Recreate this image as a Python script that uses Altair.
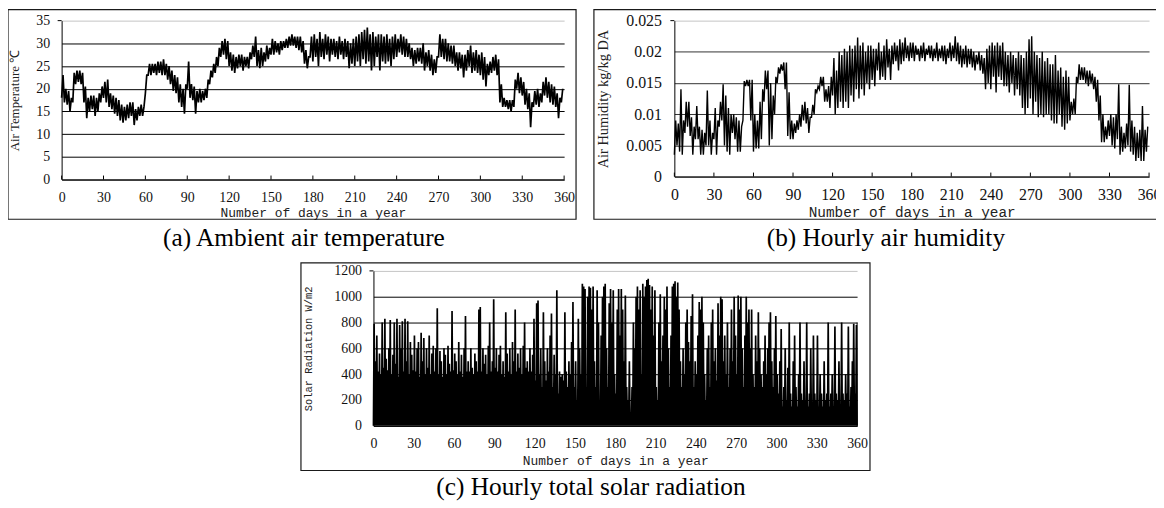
import altair as alt
import pandas as pd

# ---------------- tick lists ----------------
DAY_TICKS = list(range(0, 361, 30))
TEMP_TICKS = [0, 5, 10, 15, 20, 25, 30, 35]
HUM_TICKS = [0, 0.005, 0.01, 0.015, 0.02, 0.025]
SOLAR_TICKS = [0, 200, 400, 600, 800, 1000, 1200]

# ---------------- (a) air temperature, low / high per 2-day step (degC) ----------------
TEMP_LO = [18, 17, 16.5, 15, 17, 21, 21.5, 21, 17, 13.5,
           15, 15.5, 14, 15, 17, 18, 17, 16, 15.5, 14.5,
           14, 13, 12.5, 13, 13.5, 14, 12, 13, 14, 14,
           19, 23, 23, 23.5, 23, 23.5, 23, 23, 22, 21,
           19.5, 19, 17, 16, 14.5, 20, 18, 17.5, 14.5, 17,
           17, 17.5, 18, 21, 22.5, 23.5, 25, 27, 27.5, 26.5,
           25, 24, 23.5, 24.5, 25, 24, 25, 24.5, 26.5, 27,
           25, 24.5, 25, 26, 26.5, 27.5, 27.5, 28, 27.5, 28.5,
           29, 29, 29.5, 29.5, 29, 28.5, 28, 25.5, 24.5, 27,
           26, 27, 25, 27, 26.5, 27.5, 26, 27.5, 27, 26.5,
           27.5, 26.5, 27, 24.5, 25.5, 25, 26, 25, 26.5, 25.5,
           26, 24, 25, 27, 24, 26, 25.5, 26, 25, 26.5,
           27, 28, 27.5, 27, 27, 26.5, 25, 25.5, 26, 25.5,
           24, 25, 24, 23, 23.5, 27, 27, 26.5, 26, 26,
           25.5, 25, 24, 24.5, 22.5, 24, 25, 23.5, 24, 23.5,
           23, 22, 20.5, 23, 23.5, 24, 23, 17, 16, 16,
           15.5, 15, 16, 20, 19, 18.5, 16.5, 15.5, 11.5, 16,
           16.5, 16, 17, 18.5, 18, 17, 16.5, 16, 13.5, 17]
TEMP_HI = [23, 20, 19.5, 18, 23.5, 24, 24, 23.5, 20.5, 18,
           18.5, 18.5, 18, 19, 20.5, 21.5, 22, 19, 18.5, 18,
           17.5, 16.5, 16, 16.5, 17, 17, 15.5, 16, 16.5, 16,
           23, 25.5, 25.5, 25.5, 26, 26, 26.5, 25.5, 25, 24,
           23, 22.5, 21, 20, 21, 26, 21, 20.5, 19.5, 20,
           19.5, 20, 22, 24, 25.5, 27, 29, 30.5, 31, 30.5,
           28, 27.5, 27, 27.5, 27.5, 27, 27, 28, 29.5, 31.5,
           28.5, 29, 28, 29.5, 29, 31, 30.5, 30, 30.5, 30.5,
           31, 31.5, 32, 31.5, 31.5, 31.5, 30.5, 28.5, 27, 31.5,
           32, 31, 32.5, 31, 32, 31.5, 31, 31, 30.5, 31.5,
           30.5, 31, 30.5, 30, 31, 31.5, 32, 32.5, 33, 33.5,
           32, 32.5, 31.5, 32, 32, 31.5, 32, 31, 31.5, 32,
           31, 32, 31.5, 31, 30, 29, 28.5, 29, 29, 30,
           28, 28.5, 27.5, 26.5, 27, 32, 31, 31, 30, 29.5,
           29.5, 28, 28, 27.5, 27.5, 28.5, 29.5, 28, 28.5, 27.5,
           28, 27, 25.5, 26, 27, 27.5, 26.5, 21, 18, 17.5,
           17.5, 17.5, 22, 23.5, 22.5, 21.5, 20, 19, 17, 19.5,
           20, 19, 21.5, 22.5, 21.5, 21, 20.5, 19, 18, 20]

# ---------------- (b) air humidity, low / high per 2-day step (g/kg) ----------------
HUM_LO_G = [3.5, 5, 4, 3.5, 7, 8, 6.5, 3.5, 6, 6,
            3.5, 3.5, 5, 5, 3.5, 6, 3.5, 8, 9, 5,
            4, 3.5, 7, 6, 4, 4, 9, 14.5, 14.5, 9,
            4, 4.5, 4.5, 6, 12, 14, 5, 6, 10, 15,
            16.5, 17, 14, 6.5, 6, 6, 7, 7.5, 8, 9,
            8.5, 7, 9.5, 10, 13.5, 14, 14.5, 12, 12, 11,
            13, 10, 11, 12, 11, 12, 11, 13, 12, 14,
            12.5, 14, 13, 15, 14, 15.5, 14.5, 17, 15.5, 16,
            15.5, 17.5, 15.5, 18, 18.5, 17, 18, 18.5, 19, 18.5,
            19, 18.5, 19.5, 18.5, 19, 18.5, 19.5, 19, 18.5, 19,
            18.5, 19, 18.5, 18, 19, 18.5, 19, 18.5, 18, 17.5,
            18, 17.5, 18, 17.5, 17, 18, 17, 16.5, 14, 15,
            14, 16, 13.5, 16, 15.5, 14.5, 14.5, 13.5, 15, 13,
            14, 13, 11, 10, 11, 12.5, 10, 12, 9.5, 10,
            9.5, 10, 10, 9, 8.5, 8.5, 10, 8, 7.5, 8.5,
            9, 10, 10, 15, 15.5, 15.5, 15, 14.5, 15, 14,
            12, 9, 5.5, 5.5, 6, 6.5, 5, 4.5, 6, 3.5,
            4, 4.5, 5, 4, 3.5, 2.5, 3, 2.5, 2.5, 4]
HUM_HI_G = [9, 8.5, 14, 9, 12, 12, 9.5, 8, 11.3, 8,
            7.5, 7, 13.8, 9, 7, 11, 9, 12, 14.8, 13,
            11, 10, 10, 9.5, 9, 8, 15.3, 15.5, 15.5, 15.5,
            10, 9, 12, 14, 17, 17, 15, 13, 16, 17.5,
            18, 18.3, 18.3, 13.5, 9, 8.5, 9, 10, 11.5, 12,
            11, 9.5, 11.5, 14, 14.5, 16, 16, 14, 14.5, 16,
            19, 17, 20, 19.5, 20.5, 20, 21, 20.5, 21, 22.3,
            21, 21.5, 20, 21, 21, 20.5, 20.5, 21.5, 20, 21,
            22, 20.5, 21, 21.5, 21, 22, 21.5, 22.3, 21, 21.5,
            21.5, 21, 20.5, 21, 21.5, 20.5, 21, 21, 20.5, 21.5,
            20.5, 21, 21, 20.5, 21.5, 21, 22.5, 21.5, 21, 20.5,
            21, 20.5, 20.5, 20, 19.5, 20, 19.5, 19, 20.5, 21,
            21.5, 21, 21.5, 21, 21.5, 20, 19.5, 20, 19.5, 19,
            20, 19.5, 19, 20, 22, 22.5, 20, 19.5, 19, 20,
            18.5, 19, 18, 18, 19.5, 17, 17.5, 16, 17, 16,
            12, 12.5, 16, 18, 17.5, 17.5, 17, 17, 16.5, 16,
            15.5, 13, 10, 8, 9, 10, 9.5, 10, 14.8, 8,
            7, 8.5, 14.7, 9, 8, 7, 7.5, 11.3, 7.5, 8]

# ---------------- (c) daily peak of hourly total solar radiation (W/m2) ----------------
SOLAR_PEAK = [790, 500, 700, 420, 560, 400, 800, 450, 830, 520,
              430, 600, 820, 400, 550, 800, 480, 830, 380, 780,
              600, 810, 420, 830, 500, 810, 400, 650, 550, 430,
              700, 420, 600, 650, 380, 720, 500, 680, 400, 600,
              450, 700, 400, 560, 620, 420, 600, 910, 400, 580,
              500, 380, 600, 550, 400, 620, 480, 420, 890, 430,
              560, 500, 400, 650, 420, 550, 380, 600, 850, 420,
              500, 420, 600, 450, 400, 560, 500, 420, 900, 920,
              420, 600, 480, 550, 400, 620, 800, 420, 500, 980,
              450, 600, 420, 550, 620, 400, 500, 380, 880, 560,
              420, 600, 400, 650, 500, 900, 420, 560, 450, 600,
              400, 620, 800, 450, 500, 420, 600, 420, 550, 830,
              350, 950, 970, 400, 600, 300, 880, 500, 350, 600,
              420, 700, 870, 300, 550, 400, 1050, 250, 420, 380,
              400, 350, 880, 420, 300, 500, 400, 650, 960, 300,
              500, 200, 830, 600, 400, 1100, 1080, 1060, 300, 1000,
              1080, 1070, 900, 1080, 500, 300, 1050, 800, 200, 700,
              1000, 1080, 1100, 600, 300, 950, 1060, 800, 1050, 400,
              250, 900, 1060, 700, 1060, 900, 500, 1010, 300, 200,
              500, 100, 300, 800, 600, 1000, 1080, 900, 1050, 400,
              1100, 1000, 1080, 1130, 1140, 1090, 900, 1080, 700, 1050,
              300, 200, 800, 1020, 500, 700, 1000, 900, 1080, 600,
              300, 700, 1080, 1100, 1120, 1000, 1110, 900, 500, 300,
              600, 400, 800, 900, 650, 500, 850, 1020, 300, 500,
              400, 700, 960, 900, 1000, 800, 400, 200, 600, 700,
              300, 800, 900, 500, 600, 350, 950, 700, 1000, 980,
              500, 700, 400, 800, 300, 600, 900, 500, 1000, 700,
              400, 1010, 900, 1000, 600, 300, 700, 1000, 800, 900,
              600, 900, 400, 300, 700, 500, 880, 600, 400, 300,
              500, 700, 400, 600, 800, 880, 500, 300, 600, 850,
              400, 250, 500, 750, 150, 300, 600, 200, 450, 800,
              250, 150, 500, 700, 300, 150, 400, 800, 250, 200,
              500, 200, 800, 150, 250, 600, 150, 700, 250, 200,
              700, 150, 400, 250, 150, 500, 200, 250, 800, 150,
              250, 400, 150, 770, 250, 200, 500, 150, 800, 250,
              200, 400, 250, 770, 150, 300, 500, 790, 250, 780]

CAPTIONS = ["(a) Ambient air temperature", "(b) Hourly air humidity",
            "(c) Hourly total solar radiation"]
X_TITLE = "Number of days in a year"
Y_TITLES = ["Air Temperature \u2103", "Air Humidity kg/kg DA", "Solar Radiation W/m2"]

# ---------------- tables ----------------
def zigzag(lo, hi, scale=1.0):
    rows = []
    for k, (a, b) in enumerate(zip(lo, hi)):
        rows.append({"day": 2 * k, "v": a * scale})
        rows.append({"day": 2 * k + 1, "v": b * scale})
    return pd.DataFrame(rows)

temp_df = zigzag(TEMP_LO, TEMP_HI)
hum_df = zigzag(HUM_LO_G, HUM_HI_G, 0.001)
sol_rows = []
for d, p in enumerate(SOLAR_PEAK):
    sol_rows.append({"day": d, "v": 0})
    sol_rows.append({"day": d + 0.5, "v": p})
sol_rows.append({"day": 360, "v": 0})
sol_df = pd.DataFrame(sol_rows)

ONE = pd.DataFrame({"k": [0]})


def invisible(x1, x2, y1, y2):
    return alt.Chart(ONE).mark_rule(strokeOpacity=0, strokeWidth=1).encode(
        x=alt.value(x1), x2=alt.value(x2), y=alt.value(y1), y2=alt.value(y2))


def panel(df, ymax, yticks, yfmt, ytitle, caption, w, h, lab_size, lab_pad_x,
          lab_pad_y, yt_font, yt_size, yt_x, xt_size, xt_y, box, cap_x, cap_y,
          stroke_w, grid_color="black", inward=True, frame_top=None):
    xs = alt.Scale(domain=[0, 360], nice=False, zero=False)
    ys = alt.Scale(domain=[0, ymax], nice=False)
    x_axis = alt.Axis(
        values=DAY_TICKS, title=X_TITLE, grid=False, ticks=False,
        domainColor="black", domainWidth=1, labelFlush=False,
        labelFont="Liberation Serif", labelFontSize=lab_size, labelColor="#111",
        labelPadding=lab_pad_x, labelOverlap=False,
        titleFont="Liberation Mono", titleFontSize=xt_size,
        titleFontWeight="normal", titleColor="#222",
        titleY=xt_y, titleBaseline="middle")
    y_axis = alt.Axis(
        values=yticks, format=yfmt, title=ytitle, grid=True,
        gridColor={"condition": {"test": f"datum.value >= {ymax * 0.999}",
                                 "value": "#c4c4c4"}, "value": grid_color},
        gridWidth=1, ticks=False, domainColor="black", domainWidth=1,
        labelFont="Liberation Serif", labelFontSize=lab_size, labelColor="#111",
        labelPadding=lab_pad_y, labelOverlap=False,
        titleFont=yt_font, titleFontSize=yt_size, titleFontWeight="normal",
        titleColor="#222", titleX=yt_x, titleY=h / 2, titleAngle=270,
        titleBaseline="middle", titleAlign="center")
    line = alt.Chart(df).mark_line(color="black", strokeWidth=stroke_w).encode(
        x=alt.X("day:Q", scale=xs, axis=x_axis),
        y=alt.Y("v:Q", scale=ys, axis=y_axis),
    )
    layers = [line]
    if inward:
        layers.append(alt.Chart(pd.DataFrame({"day": DAY_TICKS})).mark_rule(
            color="black").encode(x=alt.X("day:Q", scale=xs, axis=x_axis),
                                  y=alt.value(h), y2=alt.value(h - 4)))
    if frame_top is not None:
        # right-hand frame of the plot area, from 0 up to frame_top
        layers.append(alt.Chart(pd.DataFrame({"day": [360], "v": [0], "v2": [frame_top]}))
                      .mark_rule(color="black").encode(
            x=alt.X("day:Q", scale=xs, axis=x_axis),
            y=alt.Y("v:Q", scale=ys, axis=y_axis), y2="v2:Q"))
    layers.append(alt.Chart(ONE).mark_rule(color="black").encode(
        x=alt.value(-4), x2=alt.value(0), y=alt.value(0)))
    layers.append(alt.Chart(ONE).mark_rect(
        filled=False, stroke="#1a1a1a", strokeWidth=1.2).encode(
        x=alt.value(box[0]), x2=alt.value(box[1]),
        y=alt.value(box[2]), y2=alt.value(box[3])))
    layers.append(alt.Chart(pd.DataFrame({"t": [caption]})).mark_text(
        font="Liberation Serif", fontSize=25.5, color="black",
        align="center", baseline="middle").encode(
        text="t:N", x=alt.value(cap_x), y=alt.value(cap_y)))
    return layers, w, h


la, wa, ha = panel(temp_df, 35, TEMP_TICKS, "d", Y_TITLES[0], CAPTIONS[0], 506, 160,
                   14, 11, 12, "Liberation Serif", 13, -47, 13, 33,
                   (-54, 518, -11, 200), 244, 219, 1.7)
la.append(invisible(0, 10, 235, 235))
pa = alt.layer(*la).properties(width=wa, height=ha)

lb, wb, hb = panel(hum_df, 0.025, HUM_TICKS, ".3~f", Y_TITLES[1], CAPTIONS[1], 478, 157,
                   16, 10, 13, "Liberation Serif", 14.5, -71, 14.5, 36,
                   (-81, 490, -11, 200), 213, 219, 1.4, grid_color="#333")
pb = alt.layer(*lb).properties(width=wb, height=hb)

lc, wc, hc = panel(sol_df, 1200, SOLAR_TICKS, "d", Y_TITLES[2], CAPTIONS[2], 487, 156,
                   14, 11, 12, "Liberation Mono", 10.5, -65, 13, 35,
                   (-73, 500, -8, 201), 219, 218, 1.7, inward=False, frame_top=800)
pc = alt.layer(*lc).properties(width=wc, height=hc)

# empty spacer that pushes panel (c) to the centre of the figure
spacer = invisible(0, 238, 0, 0).properties(width=238, height=1)

top = alt.hconcat(pa, pb, spacing=14)
bottom = alt.hconcat(spacer, pc, spacing=0)
chart = alt.vconcat(top, bottom, spacing=6).properties(
    autosize=alt.AutoSizeParams(type="none"),
    padding={"left": 54, "top": 11, "right": 1102, "bottom": 485}
).configure_view(stroke="transparent")

chart.save("out.html", embed_options={"renderer": "svg", "actions": False})
